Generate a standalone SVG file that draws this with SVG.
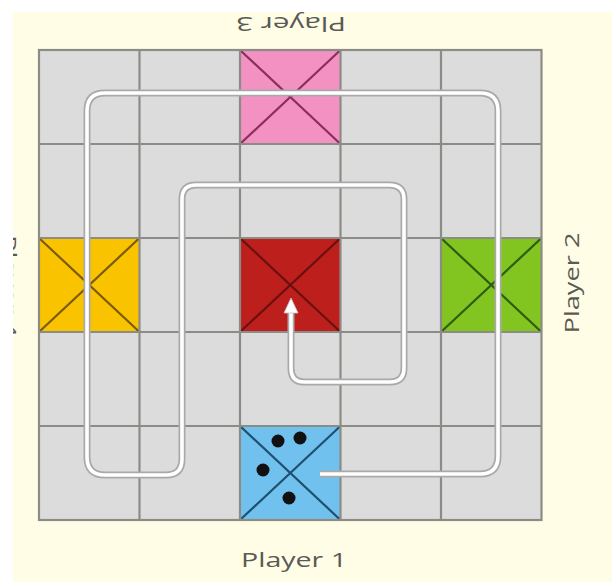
<svg xmlns="http://www.w3.org/2000/svg" width="612" height="585" viewBox="0 0 612 585">
  <defs>
    <style>
      .grid{stroke:#8c8c86;stroke-width:2.2;fill:none}
      .diag{stroke-width:2.2;fill:none}
      .lbl{font-family:"Open Sans","Noto Sans","DejaVu Sans",sans-serif;font-size:20px;fill:#5a5a55;text-anchor:middle}
      .pathShadow{fill:none;stroke:#a9a9a9;stroke-width:7;stroke-linejoin:round;stroke-linecap:butt}
      .pathMain{fill:none;stroke:#ffffff;stroke-width:3.6;stroke-linejoin:round;stroke-linecap:butt}
      .dot{fill:#111111}
    </style>
    <clipPath id="leftClip">
      <rect x="13" y="0" width="30" height="585"/>
    </clipPath>
  </defs>

  <rect x="0" y="0" width="612" height="585" fill="#ffffff"/>
  <rect x="13" y="12" width="599" height="570" fill="#fffde6"/>

  <g id="board">
    <rect x="39" y="50" width="502.5" height="470" fill="#dcdcdc"/>
  </g>

  <g id="cell-pink">
    <rect x="240" y="50" width="100.5" height="94" fill="#f291c2"/>
    <path class="diag" stroke="#8a2f5c" d="M240,50 L340.5,144 M340.5,50 L240,144"/>
  </g>
  <g id="cell-yellow">
    <rect x="39" y="238" width="100.5" height="94" fill="#f9c300"/>
    <path class="diag" stroke="#7c5b08" d="M39,238 L139.5,332 M139.5,238 L39,332"/>
  </g>
  <g id="cell-red">
    <rect x="240" y="238" width="100.5" height="94" fill="#bd1f1c"/>
    <path class="diag" stroke="#6a1010" d="M240,238 L340.5,332 M340.5,238 L240,332"/>
  </g>
  <g id="cell-green">
    <rect x="441" y="238" width="100.5" height="94" fill="#82c420"/>
    <path class="diag" stroke="#2f5c12" d="M441,238 L541.5,332 M541.5,238 L441,332"/>
  </g>
  <g id="cell-blue">
    <rect x="240" y="426" width="100.5" height="94" fill="#70c1ee"/>
    <path class="diag" stroke="#1f5070" d="M240,426 L340.5,520 M340.5,426 L240,520"/>
    <circle class="dot" cx="278" cy="441" r="6.5"/>
    <circle class="dot" cx="300" cy="438" r="6.5"/>
    <circle class="dot" cx="263" cy="470" r="6.5"/>
    <circle class="dot" cx="289" cy="498" r="6.5"/>
  </g>

  <g id="grid">
    <path class="grid" d="M139.5,50 V520 M240,50 V520 M340.5,50 V520 M441,50 V520 M39,144 H541.5 M39,238 H541.5 M39,332 H541.5 M39,426 H541.5"/>
    <rect class="grid" x="39" y="50" width="502.5" height="470" stroke-width="2.6"/>
  </g>

  <g id="connectors">
    <path class="pathShadow" d="M320,474 H480 Q498,474 498,456 V111 Q498,93 480,93 H105 Q87,93 87,111 V457 Q87,475 105,475 H166 Q182,475 182,459 V199 Q182,185 196,185 H389 Q404,185 404,199 V368 Q404,382 390,382 H304 Q291,382 291,368 V312"/>
    <path class="pathMain" d="M320,474 H480 Q498,474 498,456 V111 Q498,93 480,93 H105 Q87,93 87,111 V457 Q87,475 105,475 H166 Q182,475 182,459 V199 Q182,185 196,185 H389 Q404,185 404,199 V368 Q404,382 390,382 H304 Q291,382 291,368 V312"/>
    <path d="M291,298 L298,313 L284,313 Z" fill="#ffffff" stroke="#c4c4c4" stroke-width="0.8"/>
  </g>

  <g id="labels">
    <text class="lbl" transform="translate(294,567)" textLength="106" lengthAdjust="spacingAndGlyphs">Player 1</text>
    <text class="lbl" transform="translate(579,283) rotate(-90)" textLength="101" lengthAdjust="spacingAndGlyphs">Player 2</text>
    <text class="lbl" transform="translate(291,17) rotate(180)" textLength="110" lengthAdjust="spacingAndGlyphs">Player 3</text>
    <g clip-path="url(#leftClip)">
      <text class="lbl" transform="translate(1.5,286) rotate(90)" textLength="102" lengthAdjust="spacingAndGlyphs">Player 4</text>
    </g>
  </g>
</svg>
